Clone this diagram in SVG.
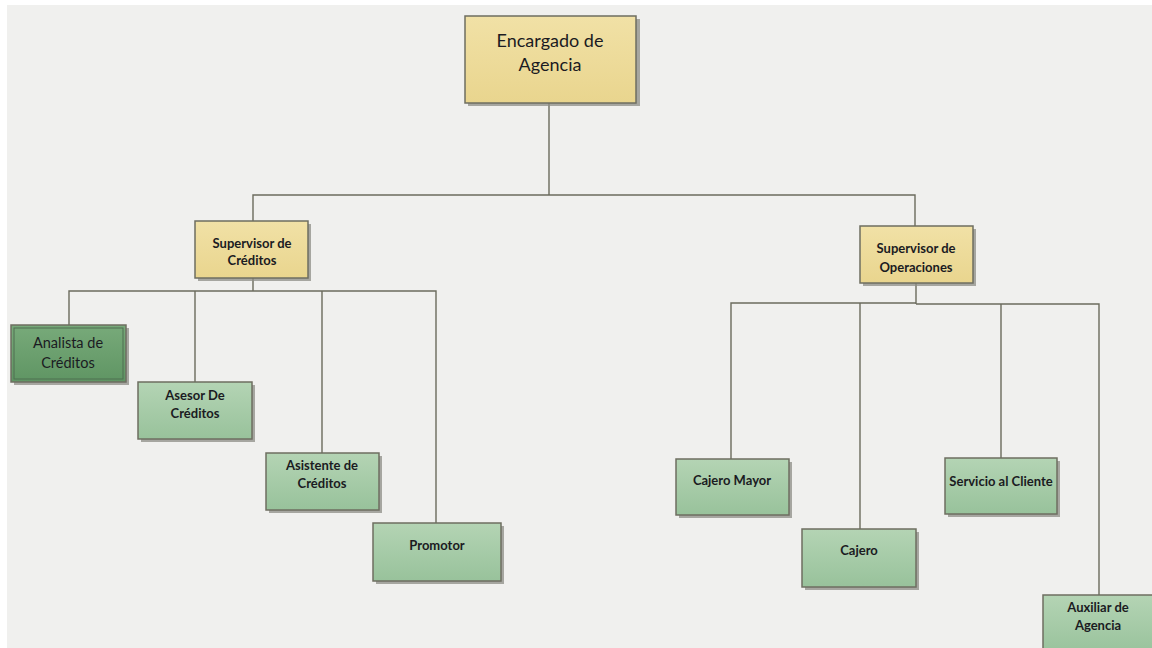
<svg xmlns="http://www.w3.org/2000/svg" width="1152" height="648" viewBox="0 0 1152 648">
  <defs>
    <linearGradient id="gold" x1="0" y1="0" x2="0" y2="1">
      <stop offset="0" stop-color="#f1e1a6"/>
      <stop offset="1" stop-color="#e9d58e"/>
    </linearGradient>
    <linearGradient id="mint" x1="0" y1="0" x2="0" y2="1">
      <stop offset="0" stop-color="#b4d4b4"/>
      <stop offset="1" stop-color="#98c29b"/>
    </linearGradient>
    <linearGradient id="moss" x1="0" y1="0" x2="0" y2="1">
      <stop offset="0" stop-color="#78aa7a"/>
      <stop offset="1" stop-color="#5f9563"/>
    </linearGradient>
  </defs>
  <style>
    .shadow { fill: #8e8e86; opacity: 0.75; }
    .box { stroke: #6e6e60; stroke-width: 1.5; }
    .gold { fill: url(#gold); }
    .mint { fill: url(#mint); }
    .moss { fill: url(#moss); }
    .inner { fill: none; stroke: #4f6e50; stroke-width: 1; }
    text { font-family: Lato, "Open Sans", "Liberation Sans", sans-serif; fill: #1b1b22; text-anchor: middle; }
    .big { font-size: 18px; }
    .mid { font-size: 14.5px; }
    .small { font-size: 13px; font-weight: bold; }
    .wire { fill: none; stroke: #6b6b5d; stroke-width: 1.4; }
  </style>

  <!-- page -->
  <rect width="1152" height="648" fill="#ffffff"/>
  <rect x="7" y="5" width="1145" height="643" fill="#f0f0ee"/>

  <!-- connectors -->
  <g id="connectors">
    <path class="wire" d="M549 103 V195 M253 221 V195 H915 V226"/>
    <path class="wire" d="M253 278 V291 M69 325 V291 H436 V523 M195 291 V382 M322 291 V453"/>
    <path class="wire" d="M916 283 V304 M731 459 V303 H916 M860 303 V529 M916 304 H1099 V595 M1001 304 V458"/>
  </g>

  <g id="encargado">
    <rect class="shadow" x="468" y="19" width="172" height="87"/>
    <rect class="box gold" x="465" y="16" width="171" height="87"/>
    <text class="big" x="550" y="47">Encargado de</text>
    <text class="big" x="550" y="71">Agencia</text>
  </g>

  <g id="sup-creditos">
    <rect class="shadow" x="198" y="224" width="113" height="57"/>
    <rect class="box gold" x="195" y="221" width="113" height="57"/>
    <text class="small" x="252" y="248">Supervisor de</text>
    <text class="small" x="252" y="265">Créditos</text>
  </g>

  <g id="sup-operaciones">
    <rect class="shadow" x="863" y="229" width="113" height="57"/>
    <rect class="box gold" x="860" y="226" width="113" height="57"/>
    <text class="small" x="916" y="253">Supervisor de</text>
    <text class="small" x="916" y="272">Operaciones</text>
  </g>

  <g id="analista">
    <rect class="shadow" x="14" y="328" width="115" height="57"/>
    <rect class="box moss" x="11" y="325" width="115" height="57"/>
    <rect class="inner" x="14" y="328" width="109" height="51"/>
    <text class="mid" x="68" y="348">Analista de</text>
    <text class="mid" x="68" y="368">Créditos</text>
  </g>

  <g id="asesor">
    <rect class="shadow" x="141" y="385" width="114" height="57"/>
    <rect class="box mint" x="138" y="382" width="114" height="57"/>
    <text class="small" x="195" y="400">Asesor De</text>
    <text class="small" x="195" y="418">Créditos</text>
  </g>

  <g id="asistente">
    <rect class="shadow" x="269" y="456" width="113" height="57"/>
    <rect class="box mint" x="266" y="453" width="113" height="57"/>
    <text class="small" x="322" y="470">Asistente de</text>
    <text class="small" x="322" y="488">Créditos</text>
  </g>

  <g id="promotor">
    <rect class="shadow" x="376" y="526" width="128" height="58"/>
    <rect class="box mint" x="373" y="523" width="128" height="58"/>
    <text class="small" x="437" y="550">Promotor</text>
  </g>

  <g id="cajero-mayor">
    <rect class="shadow" x="679" y="462" width="113" height="56"/>
    <rect class="box mint" x="676" y="459" width="113" height="56"/>
    <text class="small" x="732" y="485">Cajero Mayor</text>
  </g>

  <g id="cajero">
    <rect class="shadow" x="805" y="532" width="114" height="58"/>
    <rect class="box mint" x="802" y="529" width="114" height="58"/>
    <text class="small" x="859" y="555">Cajero</text>
  </g>

  <g id="servicio">
    <rect class="shadow" x="948" y="461" width="112" height="56"/>
    <rect class="box mint" x="945" y="458" width="112" height="56"/>
    <text class="small" x="1001" y="486">Servicio al Cliente</text>
  </g>

  <g id="auxiliar">
    <rect class="shadow" x="1046" y="598" width="112" height="60"/>
    <rect class="box mint" x="1043" y="595" width="112" height="60"/>
    <text class="small" x="1098" y="612">Auxiliar de</text>
    <text class="small" x="1098" y="630">Agencia</text>
  </g>
</svg>
